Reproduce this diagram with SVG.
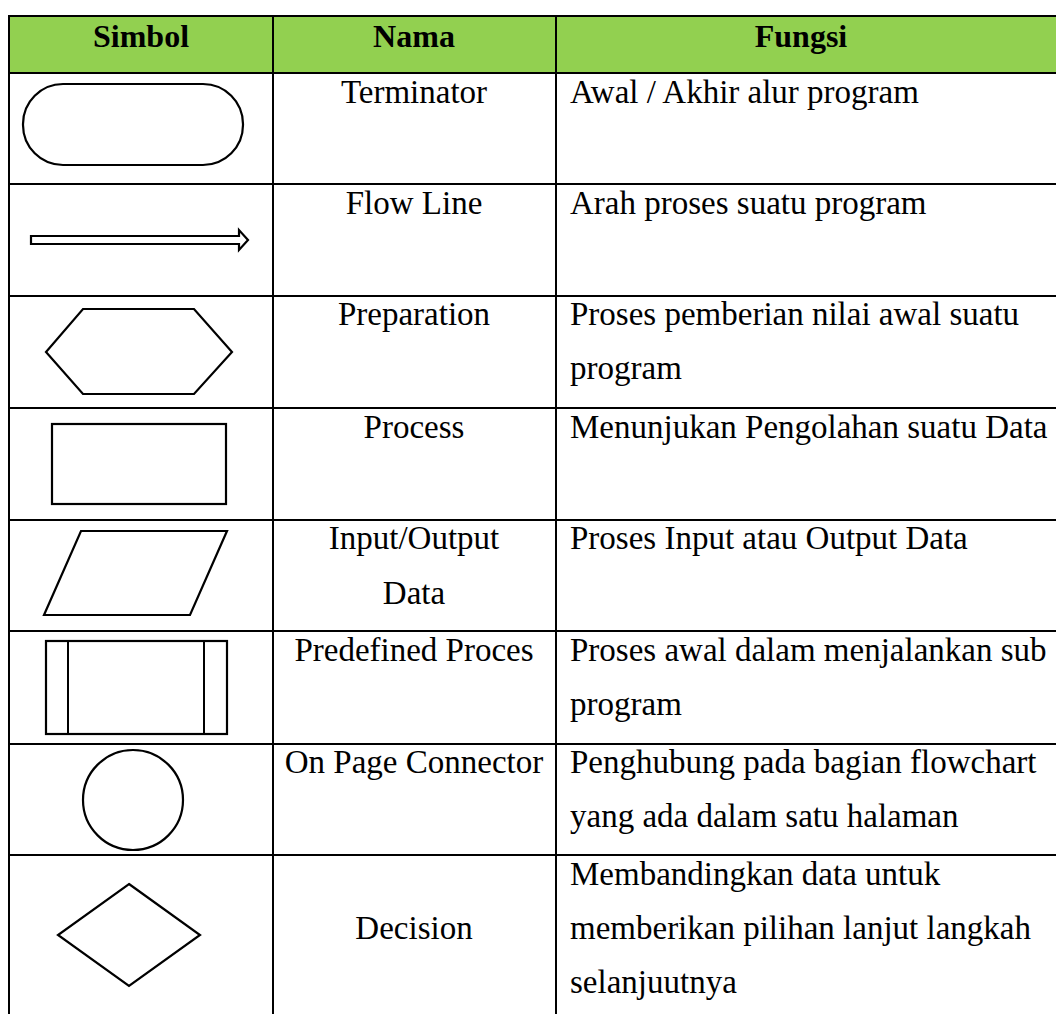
<svg xmlns="http://www.w3.org/2000/svg" width="1056" height="1014" viewBox="0 0 1056 1014">
<style>
.t{font-family:"Liberation Serif","Times New Roman",serif;font-size:33px;fill:#000}
.h{font-weight:bold;font-size:32px}
.c{text-anchor:middle}
.g{stroke:#000;stroke-width:2;fill:none}
.s{stroke:#000;stroke-width:2.2;fill:#fff}
</style>
<rect width="1056" height="1014" fill="#fff"/>
<g id="header">
<rect x="9" y="16" width="1047" height="57" fill="#92D050"/>
<text class="t h c" x="141" y="47">Simbol</text>
<text class="t h c" x="414" y="47">Nama</text>
<text class="t h c" x="801" y="47">Fungsi</text>
</g>
<g id="grid" class="g">
<line x1="9" y1="16" x2="1056" y2="16"/>
<line x1="9" y1="73" x2="1056" y2="73"/>
<line x1="9" y1="184" x2="1056" y2="184"/>
<line x1="9" y1="296" x2="1056" y2="296"/>
<line x1="9" y1="408" x2="1056" y2="408"/>
<line x1="9" y1="520" x2="1056" y2="520"/>
<line x1="9" y1="631" x2="1056" y2="631"/>
<line x1="9" y1="744" x2="1056" y2="744"/>
<line x1="9" y1="855" x2="1056" y2="855"/>
<line x1="9" y1="15" x2="9" y2="1014"/>
<line x1="273" y1="15" x2="273" y2="1014"/>
<line x1="556" y1="15" x2="556" y2="1014"/>
</g>
<g id="terminator">
<rect class="s" x="23" y="84" width="220" height="81" rx="40" ry="40"/>
<text class="t c" x="414" y="103">Terminator</text>
<text class="t" x="570" y="103">Awal / Akhir alur program</text>
</g>
<g id="flowline">
<polygon class="s" points="31,236 239,236 239,230 248,240 239,250 239,244 31,244"/>
<text class="t c" x="414" y="214">Flow Line</text>
<text class="t" x="570" y="214">Arah proses suatu program</text>
</g>
<g id="preparation">
<polygon class="s" points="83,309 194,309 232,352 194,394 83,394 46,352"/>
<text class="t c" x="414" y="325">Preparation</text>
<text class="t" x="570" y="325">Proses pemberian nilai awal suatu</text>
<text class="t" x="570" y="379">program</text>
</g>
<g id="process">
<rect class="s" x="52" y="424" width="174" height="80"/>
<text class="t c" x="414" y="438">Process</text>
<text class="t" x="570" y="438">Menunjukan Pengolahan suatu Data</text>
</g>
<g id="io">
<polygon class="s" points="81,531 227,531 190,615 44,615"/>
<text class="t c" x="414" y="549">Input/Output</text>
<text class="t c" x="414" y="604">Data</text>
<text class="t" x="570" y="549">Proses Input atau Output Data</text>
</g>
<g id="predefined">
<rect class="s" x="46" y="641" width="181" height="93"/>
<line class="g" x1="68" y1="641" x2="68" y2="734"/>
<line class="g" x1="204" y1="641" x2="204" y2="734"/>
<text class="t c" x="414" y="661">Predefined Proces</text>
<text class="t" x="570" y="661">Proses awal dalam menjalankan sub</text>
<text class="t" x="570" y="715">program</text>
</g>
<g id="connector">
<circle class="s" cx="133" cy="800" r="50"/>
<text class="t c" x="414" y="773">On Page Connector</text>
<text class="t" x="570" y="773">Penghubung pada bagian flowchart</text>
<text class="t" x="570" y="827">yang ada dalam satu halaman</text>
</g>
<g id="decision">
<polygon class="s" points="129,884 200,935 129,986 58,935"/>
<text class="t c" x="414" y="939">Decision</text>
<text class="t" x="570" y="885">Membandingkan data untuk</text>
<text class="t" x="570" y="939">memberikan pilihan lanjut langkah</text>
<text class="t" x="570" y="993">selanjuutnya</text>
</g>
<g id="connectors"></g>
</svg>
